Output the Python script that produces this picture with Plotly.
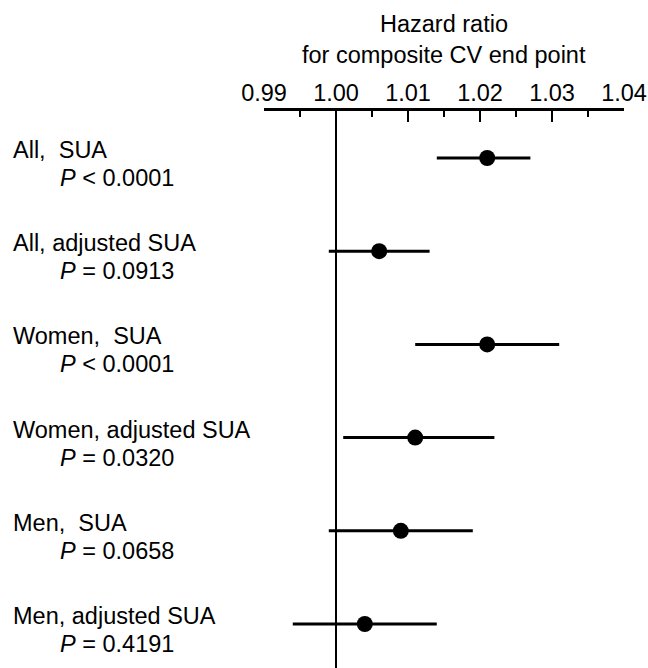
import plotly.graph_objects as go

# ---- data ----
group_labels = ["All,  SUA", "All, adjusted SUA", "Women,  SUA",
                "Women, adjusted SUA", "Men,  SUA", "Men, adjusted SUA"]
p_labels = ["<i>P</i> &lt; 0.0001", "<i>P</i> = 0.0913", "<i>P</i> &lt; 0.0001",
            "<i>P</i> = 0.0320", "<i>P</i> = 0.0658", "<i>P</i> = 0.4191"]
hazard_ratio = [1.021, 1.006, 1.021, 1.011, 1.009, 1.004]
ci_lower = [1.014, 0.999, 1.011, 1.001, 0.999, 0.994]
ci_upper = [1.027, 1.013, 1.031, 1.022, 1.019, 1.014]
tick_values = [0.99, 1.00, 1.01, 1.02, 1.03, 1.04]
tick_text = ["0.99", "1.00", "1.01", "1.02", "1.03", "1.04"]
title_lines = ["Hazard ratio", "for composite CV end point"]
reference_value = 1.00

rows = list(range(1, len(group_labels) + 1))
FONT = "Liberation Sans, Arial, Helvetica, sans-serif"
FS = 23.5

fig = go.Figure()

# CI segments
xs, ys = [], []
for r, lo, hi in zip(rows, ci_lower, ci_upper):
    xs += [lo, hi, None]
    ys += [r, r, None]
fig.add_trace(go.Scatter(x=xs, y=ys, mode="lines",
                         line=dict(color="black", width=3),
                         showlegend=False, hoverinfo="skip"))
# point estimates
fig.add_trace(go.Scatter(x=hazard_ratio, y=rows, mode="markers",
                         marker=dict(color="black", size=16),
                         showlegend=False))

# reference line at 1.00
fig.add_shape(type="line", xref="x", yref="paper",
              x0=reference_value, x1=reference_value, y0=0, y1=1,
              line=dict(color="black", width=2))

annotations = []
for r, g, p in zip(rows, group_labels, p_labels):
    annotations.append(dict(x=(12 - 264) / 360, xref="paper", y=r, yref="y",
                            text=g, showarrow=False, xanchor="left",
                            yanchor="middle", yshift=8, borderpad=0,
                            font=dict(family=FONT, size=FS, color="black")))
    annotations.append(dict(x=(59 - 264) / 360, xref="paper", y=r, yref="y",
                            text=p, showarrow=False, xanchor="left",
                            yanchor="middle", yshift=-20, borderpad=0,
                            font=dict(family=FONT, size=FS, color="black")))

for i, t in enumerate(title_lines):
    py = 24 + 31 * i
    annotations.append(dict(x=0.5, xref="paper", y=1 + (111 - py) / 557, yref="paper",
                            text=t, showarrow=False, xanchor="center",
                            yanchor="middle", borderpad=0,
                            font=dict(family=FONT, size=FS, color="black")))

fig.update_layout(
    width=648, height=668,
    margin=dict(l=264, r=24, t=111, b=0),
    paper_bgcolor="white", plot_bgcolor="white",
    annotations=annotations,
    font=dict(family=FONT, size=FS, color="black"),
    xaxis=dict(side="top", range=[0.99, 1.04], tickvals=tick_values,
               ticktext=tick_text, ticks="inside", ticklen=11, tickwidth=2,
               tickcolor="black", showline=True, linecolor="black", linewidth=2.5,
               showgrid=False, zeroline=False, ticklabelstandoff=-2,
               tickfont=dict(family=FONT, size=FS, color="black"),
               minor=dict(dtick=0.005, tick0=0.99, ticks="inside", ticklen=6,
                          tickwidth=2, tickcolor="black", showgrid=False)),
    yaxis=dict(range=[6.472, 0.496], visible=False, showgrid=False, zeroline=False),
)

fig.write_html("out.html")
